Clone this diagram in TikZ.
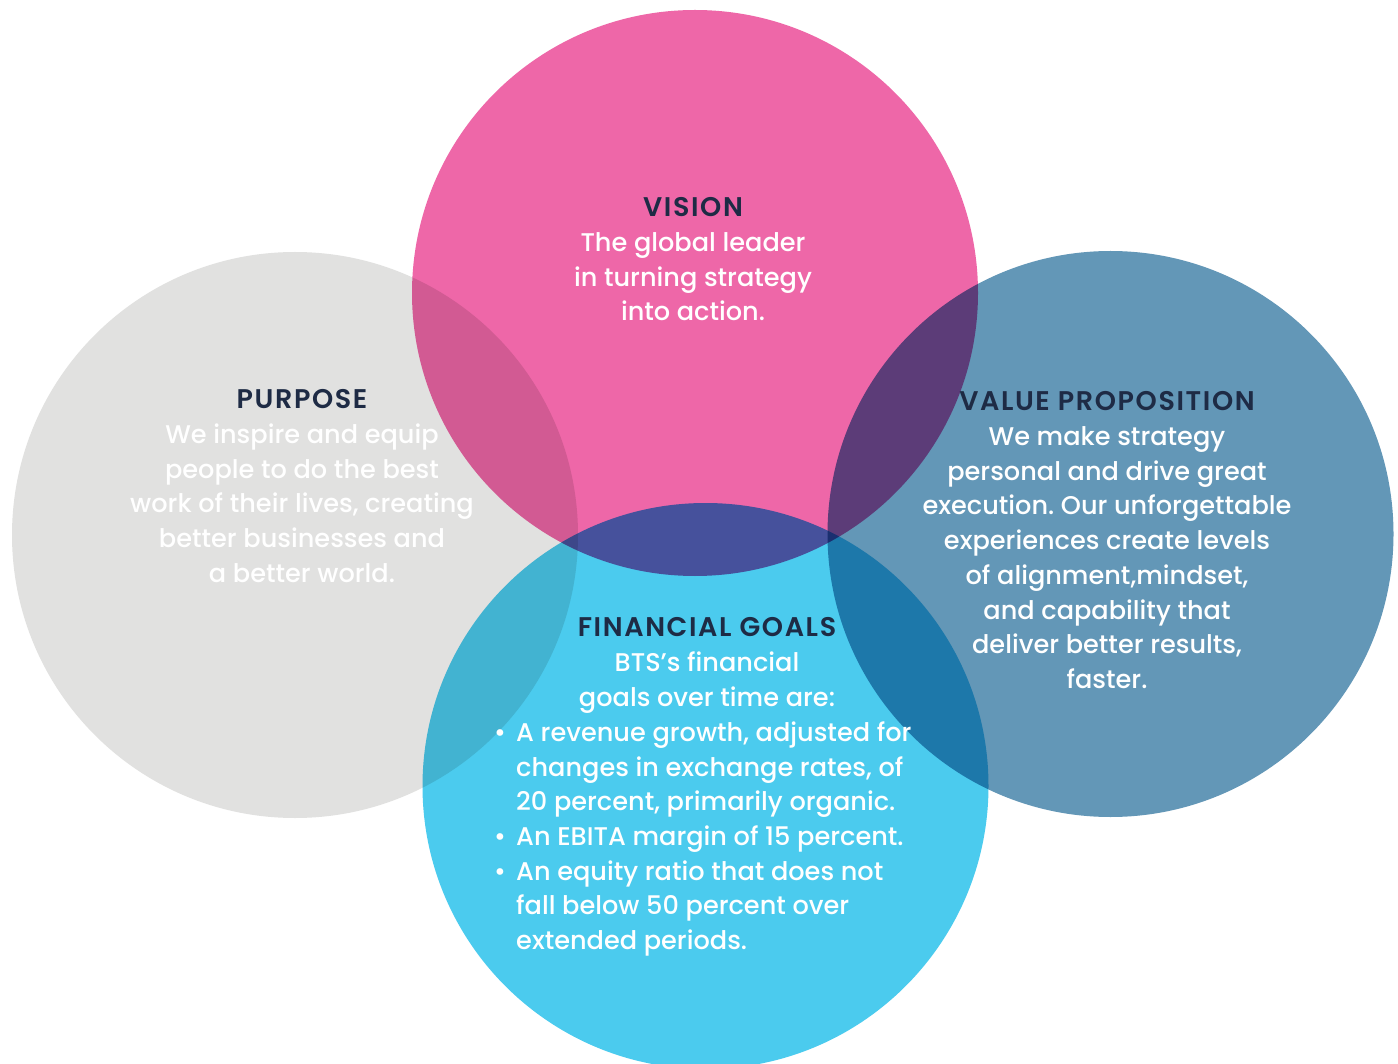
\documentclass[tikz,border=0pt]{standalone}
\usepackage{fontspec}
\setmainfont{Poppins}[UprightFont={* Medium}, BoldFont={* SemiBold}]
\frenchspacing
\definecolor{cgray}{HTML}{E1E1E0}
\definecolor{cpink}{HTML}{EE67A8}
\definecolor{cblue}{HTML}{6397B7}
\definecolor{ccyan}{HTML}{4BCBEE}
\definecolor{navy}{HTML}{1E2B45}
\tikzset{
  disc/.style={fill=#1, draw=none, blend mode=multiply},
  block/.style={text=white, align=center, anchor=north, inner sep=0pt,
    font=\fontsize{25.6}{34.7}\selectfont\frenchspacing}
}
\newcommand{\ttlfont}[1]{{\color{navy}\bfseries\fontsize{27}{34.7}\selectfont\addfontfeatures{LetterSpace=6}#1}}
\begin{document}
\begin{tikzpicture}[x=1pt,y=-1pt]
\useasboundingbox (0,0) rectangle (1398,1064);
\fill[white] (0,0) rectangle (1398,1064);
\path[disc=cgray] (295,535) circle[radius=283pt];
\path[disc=cpink] (695,293) circle[radius=283pt];
\path[disc=cblue] (1110.5,534) circle[radius=283pt];
\path[disc=ccyan] (705.5,786) circle[radius=283pt];
\node[block] (vision) at (693,197.5) {\ttlfont{VISION}\\The global leader\\in turning strategy\\into action.};
\node[block] (purpose) at (302,389.5) {\ttlfont{PURPOSE}\\We inspire and equip\\people to do the best\\work of their lives, creating\\better businesses and\\a better world.};
\node[block] (value) at (1107,391.5) {\ttlfont{VALUE PROPOSITION}\\We make strategy\\personal and drive great\\execution. Our unforgettable\\experiences create levels\\of alignment,mindset,\\and capability that\\deliver better results,\\faster.};
\node[block] (fin) at (707,617.5) {\ttlfont{FINANCIAL GOALS}\\BTS’s financial\\goals over time are:};
\node[block, align=left, anchor=north west] (bullets) at (494,721.5) {%
\makebox[22pt][l]{\textbullet}A revenue growth, adjusted for\\
\hspace*{22pt}changes in exchange rates, of\\
\hspace*{22pt}20 percent, primarily organic.\\
\makebox[22pt][l]{\textbullet}An EBITA margin of 15 percent.\\
\makebox[22pt][l]{\textbullet}An equity ratio that does not\\
\hspace*{22pt}fall below 50 percent over\\
\hspace*{22pt}extended periods.};
\end{tikzpicture}
\end{document}
